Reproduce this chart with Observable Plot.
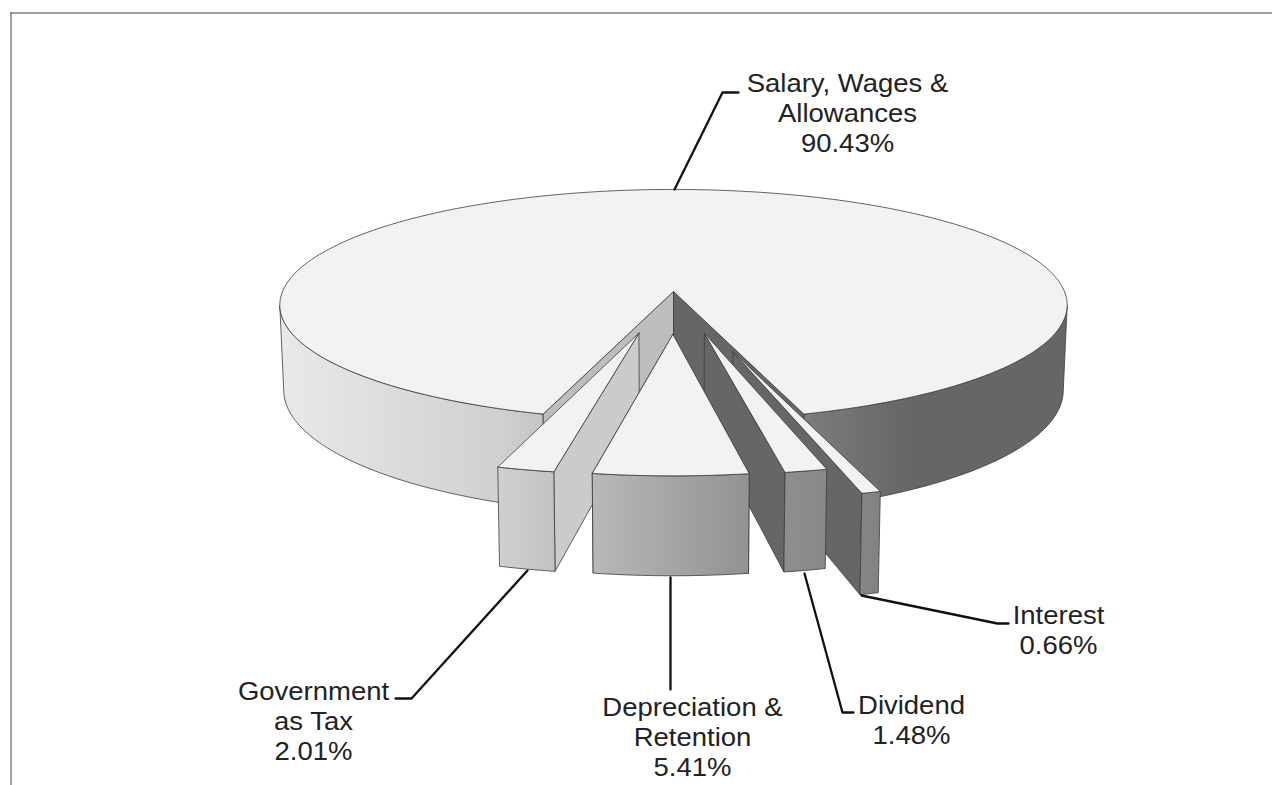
<!DOCTYPE html>
<html>
<head>
<meta charset="utf-8">
<script src="https://cdn.jsdelivr.net/npm/d3@7"></script>
<script src="https://cdn.jsdelivr.net/npm/@observablehq/plot@0.6"></script>
<style>html,body{margin:0;padding:0;background:#fff}svg{display:block}</style>
</head>
<body>
<div id="chart"></div>
<script>
// ---- data
const categories = ["Government\nas Tax", "Depreciation &\nRetention", "Dividend", "Interest"];
const shares = [2.01, 5.41, 1.48, 0.66];
const mainCategory = "Salary, Wages &\nAllowances";
const mainShare = 90.43;

// ---- layout (pie geometry + label placement, in page pixels)
const W = 1272, H = 785;
const geo = {cx: 673, cy: 291, rx: 391, ry: 114, k: 0.117, depth: 84, baseShrink: 0.99};
const explode = [0.36, 0.36, 0.36, 0.52];
const labelAt = [[313, 720], [692, 736], [911, 718.5], [1058, 629]];
const mainLabelAt = [847, 112];
const leaders = [
  [[674, 189], [722, 92], [738, 92]],
  [[527, 570], [411, 698], [395, 698]],
  [[670, 577], [670, 689]],
  [[804, 573], [842, 712], [853, 712]],
  [[861, 595], [997, 623], [1008, 623]]
];
const TOP = "#f2f2f2", WALL_L = "#bdbdbd", WALL_L2 = "#cbcbcb", WALL_R = "#666666", EDGE = "#3c3c3c";

// ---- perspective projection of a unit disk: a = right, b = towards the viewer, h = 0 top / 1 base
function project(a, b, h = 0) {
  const w = 1 / (1 - geo.k * b);
  return {
    x: geo.cx + geo.rx * a * w * (h ? geo.baseShrink : 1),
    y: geo.cy + geo.ry * b * w + h * geo.depth * w
  };
}
const rad = (d) => d * Math.PI / 180;
function arc(phi0, phi1, off, h) {
  const n = Math.max(8, Math.ceil(Math.abs(phi1 - phi0) / 1.5));
  return d3.range(n + 1).map((i) => {
    const p = rad(phi0 + (phi1 - phi0) * i / n);
    return project(off[0] + Math.sin(p), off[1] + Math.cos(p), h);
  });
}
const close = (pts) => [...pts, pts[0]];
const face = (pts, fill) => Plot.line(close(pts), {x: "x", y: "y", fill, stroke: EDGE, strokeWidth: 0.8, curve: "linear"});

// ---- angles from the shares (0 deg = front, positive = to the right)
let start = -(100 - mainShare) * 3.6 / 2;
const slices = shares.map((s, i) => {
  const a0 = start, a1 = start + s * 3.6;
  start = a1;
  const m = rad((a0 + a1) / 2);
  return {a0, a1, off: [explode[i] * Math.sin(m), explode[i] * Math.cos(m)], i};
});
const half = (100 - mainShare) * 3.6 / 2;
const extreme = Math.acos(geo.k) * 180 / Math.PI;

// ---- main body
const o0 = [0, 0];
const mainMarks = [
  face([...arc(half, extreme, o0, 0), ...arc(half, extreme, o0, 1).reverse()], "url(#mainGrad)"),
  face([...arc(-half, -extreme, o0, 0), ...arc(-half, -extreme, o0, 1).reverse()], "url(#mainGrad)"),
  face([project(0, 0), arc(-half, -half, o0, 0)[0], arc(-half, -half, o0, 1)[0], project(0, 0, 1)], WALL_L),
  face([project(0, 0), arc(half, half, o0, 0)[0], arc(half, half, o0, 1)[0], project(0, 0, 1)], WALL_R),
  face([project(0, 0), ...arc(half, 360 - half, o0, 0)], TOP)
];

// ---- exploded slices
function sliceMarks(s) {
  const apexT = project(s.off[0], s.off[1], 0), apexB = project(s.off[0], s.off[1], 1);
  const rimT = arc(s.a0, s.a1, s.off, 0), rimB = arc(s.a0, s.a1, s.off, 1);
  const marks = [];
  if (s.a1 < 0 || s.i === 1) marks.push(face([apexT, rimT[rimT.length - 1], rimB[rimB.length - 1], apexB], s.i === 1 ? WALL_L : WALL_L2));
  if (s.a0 > 0 || s.i === 1) marks.push(face([apexT, rimT[0], rimB[0], apexB], WALL_R));
  marks.push(face([...rimT, ...rimB.slice().reverse()], "url(#sliceGrad)"));
  marks.push(face([apexT, ...rimT], TOP));
  return marks;
}
const drawOrder = [3, 2, 0, 1];

// ---- labels
const labelRows = [
  {t: `${mainCategory}\n${mainShare.toFixed(2)}%`, x: mainLabelAt[0], y: mainLabelAt[1]},
  ...categories.map((c, i) => ({t: `${c}\n${shares[i].toFixed(2)}%`, x: labelAt[i][0], y: labelAt[i][1]}))
];
const widen = 1.1;
const stretched = (index, scales, values, dims, ctx, next) => {
  const g = next(index, scales, values, dims, ctx);
  g.querySelectorAll("text").forEach((t) => t.setAttribute("transform", (t.getAttribute("transform") || "") + ` scale(${widen},1)`));
  return g;
};

const defs = () => {
  const el = document.createElementNS("http://www.w3.org/2000/svg", "defs");
  el.innerHTML = `
  <linearGradient id="mainGrad" gradientUnits="userSpaceOnUse" x1="279" x2="1067" y1="0" y2="0">
    <stop offset="0" stop-color="#e9e9e9"/><stop offset="0.28" stop-color="#d0d0d0"/>
    <stop offset="0.67" stop-color="#7c7c7c"/><stop offset="0.8" stop-color="#666"/><stop offset="1" stop-color="#666"/>
  </linearGradient>
  <linearGradient id="sliceGrad" gradientUnits="userSpaceOnUse" x1="497" x2="880" y1="0" y2="0">
    <stop offset="0" stop-color="#d0d0d0"/><stop offset="0.25" stop-color="#b8b8b8"/>
    <stop offset="0.66" stop-color="#929292"/><stop offset="1" stop-color="#828282"/>
  </linearGradient>`;
  return el;
};

const chart = Plot.plot({
  width: W, height: H,
  margin: 0,
  x: {domain: [0, W], range: [0, W], axis: null},
  y: {domain: [0, H], range: [0, H], axis: null},
  style: {background: "#fff"},
  marks: [
    defs,
    Plot.ruleY([12.5], {x1: 10, x2: W, stroke: "#808080", strokeWidth: 1.5}),
    Plot.ruleX([10.5], {y1: 12, y2: H, stroke: "#808080", strokeWidth: 1.5}),
    ...mainMarks,
    ...drawOrder.flatMap((i) => sliceMarks(slices[i])),
    ...leaders.map((l) => Plot.line(l.map(([x, y]) => ({x, y})), {x: "x", y: "y", stroke: "#111", strokeWidth: 2.3, curve: "linear"})),
    Plot.text(labelRows, {
      x: "x", y: "y", text: "t", fontSize: 25, fontFamily: "Liberation Sans", fill: "#222",
      lineHeight: 1.2, textAnchor: "middle", lineAnchor: "middle", render: stretched
    })
  ]
});
document.getElementById("chart").append(chart);
</script>
</body>
</html>
